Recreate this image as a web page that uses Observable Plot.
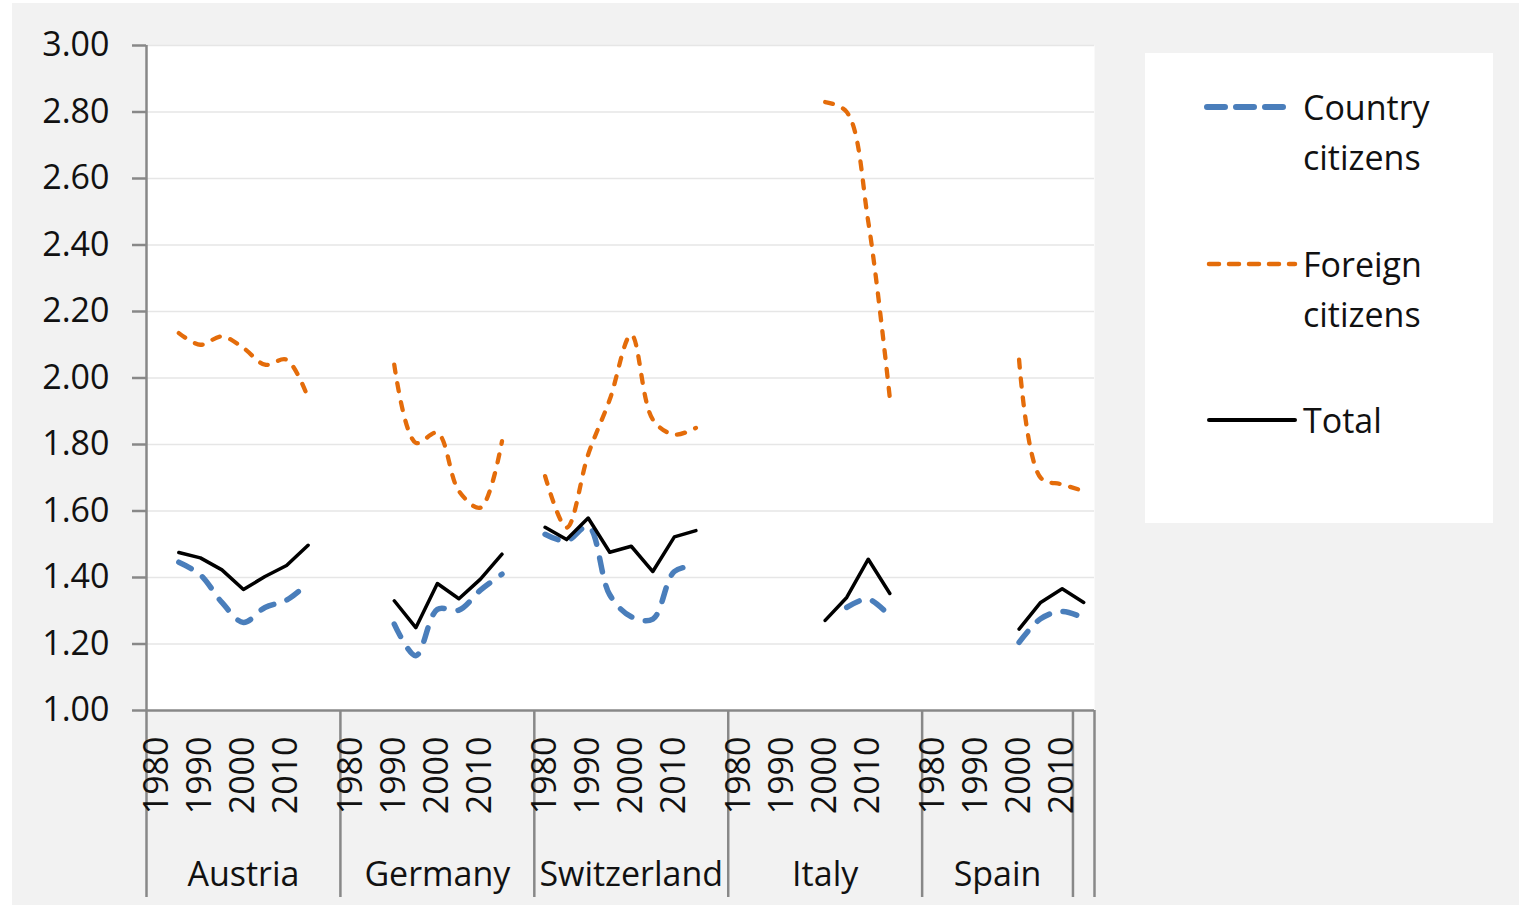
<!DOCTYPE html>
<html>
<head>
<meta charset="utf-8">
<script src="https://cdn.jsdelivr.net/npm/d3@7"></script>
<script src="https://cdn.jsdelivr.net/npm/@observablehq/plot@0.6"></script>
<style>
  html, body { margin: 0; padding: 0; background: #ffffff; }
  #wrap { position: relative; width: 1519px; height: 908px; overflow: hidden; }
  #bg { position: absolute; left: 12px; top: 3px; width: 1507px; height: 902px; background: #f2f2f2; }
  #chart { position: absolute; left: 0; top: 0; }
  #legend { position: absolute; left: 1145px; top: 53px; width: 348px; height: 470px; background: #ffffff; }
</style>
</head>
<body>
<div id="wrap"><div id="bg"></div><div id="chart"></div><div id="legend"></div></div>
<script>
// ---------- DATA ----------
const countries = ["Austria", "Germany", "Switzerland", "Italy", "Spain", ""];
const years9 = ["1980", "1985", "1990", "1995", "2000", "2005", "2010", "2015", ""];
const yearsSpain = ["1980", "1985", "1990", "1995", "2000", "2005", "2010"];
const yearsTrailing = ["2015"];
const groupYears = [years9, years9, years9, years9, yearsSpain, yearsTrailing];
const yearTickLabels = ["1980", "1990", "2000", "2010"];
const yTickLabels = ["1.00", "1.20", "1.40", "1.60", "1.80", "2.00", "2.20", "2.40", "2.60", "2.80", "3.00"];

const seriesNames = ["Country citizens", "Foreign citizens", "Total"];
const legendLines = [["Country", "citizens"], ["Foreign", "citizens"], ["Total"]];

// values aligned to every category (Austria 9, Germany 9, Switzerland 9, Italy 9, Spain 7, trailing 1)
const countryCitizens = [
  null, 1.446, 1.408, 1.325, 1.265, 1.310, 1.332, 1.383, null,
  null, null, 1.260, 1.165, 1.304, 1.302, 1.362, 1.410, null,
  1.530, 1.510, 1.554, 1.348, 1.282, 1.275, 1.418, 1.435, null,
  null, null, null, null, null, 1.310, 1.335, 1.283, null,
  null, null, null, null, 1.205, 1.276, 1.298,
  1.278
];
const foreignCitizens = [
  null, 2.135, 2.100, 2.125, 2.090, 2.040, 2.055, 1.940, null,
  null, null, 2.040, 1.805, 1.835, 1.660, 1.610, 1.810, null,
  1.705, 1.550, 1.770, 1.935, 2.130, 1.875, 1.830, 1.850, null,
  null, null, null, null, 2.830, 2.800, 2.470, 1.940, null,
  null, null, null, null, 2.055, 1.700, 1.680,
  1.660
];
const totalValues = [
  null, 1.475, 1.459, 1.423, 1.364, 1.403, 1.436, 1.497, null,
  null, null, 1.330, 1.249, 1.382, 1.336, 1.395, 1.470, null,
  1.551, 1.514, 1.579, 1.476, 1.494, 1.418, 1.522, 1.541, null,
  null, null, null, null, 1.271, 1.340, 1.455, 1.352, null,
  null, null, null, null, 1.245, 1.325, 1.366,
  1.325
];

// ---------- LAYOUT / STYLE ----------
const W = 1519, H = 908;
const plotLeft = 146, plotRight = 1094, plotTop = 45, plotBottom = 710, sepBottom = 897;
const axisColor = "#888888";
const textColor = "#111111";
const blue = "#4a7ebb", orange = "#e46c0a", black = "#000000";
const font = "'Open Sans', 'DejaVu Sans', sans-serif";

// ---------- BUILD ----------
const categories = countries.flatMap((c, g) =>
  groupYears[g].map((y, j) => ({key: `${g}-${j}`, country: c, year: y, g, j})));
const keys = categories.map(d => d.key);
const catByKey = new Map(categories.map(d => [d.key, d]));
const step = (plotRight - plotLeft) / keys.length;

const yearKeys = categories.filter(d => d.country !== "" && yearTickLabels.includes(d.year)).map(d => d.key);
const countryKeys = countries.map((c, g) => c === "" ? null : `${g}-${Math.floor((groupYears[g].length - 1) / 2)}`).filter(Boolean);
const groupStartKeys = countries.map((c, g) => `${g}-0`);
const yTicks = yTickLabels.map(Number);

function rows(values, series) {
  return categories.map((d, i) => ({key: d.key, value: values[i], series}));
}

const seriesStyles = [
  {values: countryCitizens, stroke: blue, strokeWidth: 5.5, strokeDasharray: "14,14", curve: "catmull-rom"},
  {values: foreignCitizens, stroke: orange, strokeWidth: 4.3, strokeDasharray: "8,11", curve: "catmull-rom"},
  {values: totalValues, stroke: black, strokeWidth: 3.5, strokeDasharray: null, curve: "linear"}
];

const lineMarks = seriesStyles.map((s, k) =>
  Plot.line(rows(s.values, seriesNames[k]), {
    x: "key", y: "value",
    stroke: s.stroke, strokeWidth: s.strokeWidth,
    strokeDasharray: s.strokeDasharray || undefined,
    strokeLinecap: "round", strokeLinejoin: "round",
    curve: s.curve
  }));

const ext = -(sepBottom - plotBottom);

const chart = Plot.plot({
  width: W, height: H,
  marginLeft: plotLeft, marginRight: W - plotRight,
  marginTop: plotTop, marginBottom: H - plotBottom,
  style: {fontFamily: font, fontSize: "34px", background: "transparent", color: textColor, overflow: "visible"},
  x: {type: "point", domain: keys, padding: 0.5, round: false},
  y: {domain: [yTicks[0], yTicks[yTicks.length - 1]]},
  marks: [
    Plot.frame({fill: "#ffffff", stroke: "none"}),
    Plot.gridY({ticks: yTicks.slice(1), stroke: "#e6e6e6", strokeOpacity: 1, strokeWidth: 1.5}),
    ...lineMarks,
    Plot.ruleY([yTicks[0]], {stroke: axisColor, strokeWidth: 2.5}),
    Plot.ruleX([keys[0]], {y1: yTicks[yTicks.length - 1], y2: yTicks[0], insetBottom: ext, dx: -step / 2, stroke: axisColor, strokeWidth: 2.5}),
    Plot.ruleX(groupStartKeys.slice(1), {y1: yTicks[0], y2: yTicks[0], insetBottom: ext, dx: -step / 2, stroke: axisColor, strokeWidth: 2.5}),
    Plot.ruleX([keys[keys.length - 1]], {y1: yTicks[0], y2: yTicks[0], insetBottom: ext, dx: step / 2, stroke: axisColor, strokeWidth: 2.5}),
    Plot.axisY({ticks: yTicks, tickFormat: d3.format(".2f"), tickSize: 14, tickPadding: 23,
      stroke: axisColor, strokeWidth: 2.5, fill: textColor, label: null}),
    Plot.axisX({ticks: yearKeys, tickFormat: k => catByKey.get(k).year, tickRotate: -90,
      tickSize: 0, tickPadding: 26, fill: textColor, label: null}),
    Plot.axisX({ticks: countryKeys, tickFormat: k => catByKey.get(k).country,
      tickSize: 0, tickPadding: 151, fill: textColor, label: null})
  ]
});
document.getElementById("chart").appendChild(chart);

// ---------- LEGEND ----------
const legendSvg = d3.select("#legend").append("svg")
  .attr("width", 348).attr("height", 470)
  .style("font-family", font).style("font-size", "34px");
const legendRowsY = [54, 211, 367];
const legendDash = ["18,11", "10,10", null];
seriesStyles.forEach((s, k) => {
  const y = legendRowsY[k];
  legendSvg.append("line")
    .attr("x1", k === 0 ? 62 : 64).attr("x2", k === 0 ? 140 : 150)
    .attr("y1", y).attr("y2", y)
    .attr("stroke", s.stroke)
    .attr("stroke-width", k === 0 ? 6 : (k === 1 ? 4.5 : 4))
    .attr("stroke-linecap", "round")
    .attr("stroke-dasharray", legendDash[k]);
  legendLines[k].forEach((t, r) => {
    legendSvg.append("text")
      .attr("x", 158).attr("y", y + r * 50)
      .attr("dominant-baseline", "central")
      .attr("fill", textColor)
      .text(t);
  });
});
</script>
</body>
</html>
